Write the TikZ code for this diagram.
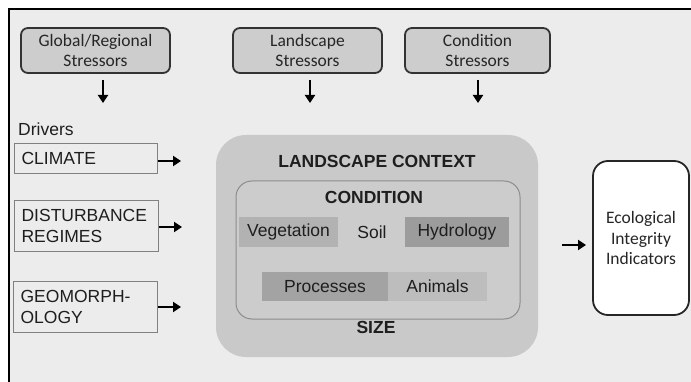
\documentclass[tikz,border=0pt]{standalone}
\usepackage{fontspec}
\setmainfont{Liberation Sans}
\newfontfamily\calfont{Carlito}
\usetikzlibrary{arrows.meta}
\definecolor{bgc}{HTML}{ECECEC}
\definecolor{stressfill}{HTML}{CDCDCD}
\definecolor{bigfill}{HTML}{C9C9C9}
\definecolor{txt}{HTML}{1E1E1E}
\tikzset{
  stressbox/.style={draw=black!80, line width=1.8pt, fill=stressfill, rounded corners=7pt,
     minimum height=45pt, inner sep=0pt, align=center, text=black!85,
     font=\calfont\fontsize{17.5}{20}\selectfont},
  driverbox/.style={draw=black!50, line width=1.2pt, fill=bgc, inner xsep=7pt, inner ysep=0pt,
     align=left, text=txt, font=\fontsize{17.5}{21}\selectfont, anchor=north west},
  cell/.style={inner sep=0pt, minimum height=30pt, text=txt, font=\fontsize{17.5}{21}\selectfont},
  heading/.style={text=txt, font=\bfseries\fontsize{17.5}{21}\selectfont, inner sep=0pt},
  arr/.style={line width=2.6pt, -{Triangle[length=8pt,width=10pt]}},
}
\begin{document}
\begin{tikzpicture}[x=1pt,y=-1pt]
\useasboundingbox (0,0) rectangle (691,382);
\fill[white] (0,0) rectangle (691,382);
\fill[bgc] (9,9) rectangle (691,382);
\draw[black, line width=2.8pt] (9,382) -- (9,9) -- (691,9);

% stressors
\node[stressbox, minimum width=149pt] (gs) at (95.5,50.5) {Global/Regional\\Stressors};
\node[stressbox, minimum width=149pt] (ls) at (307.5,50.5) {Landscape\\Stressors};
\node[stressbox, minimum width=145pt] (cs) at (477.5,50.5) {Condition\\Stressors};
\coordinate (gs1) at (103,80); \coordinate (gs2) at (103,103);
\coordinate (ls1) at (310,80); \coordinate (ls2) at (310,103);
\coordinate (cs1) at (478,80); \coordinate (cs2) at (478,103);
\draw[arr] (gs1) -- (gs2);
\draw[arr] (ls1) -- (ls2);
\draw[arr] (cs1) -- (cs2);

% drivers
\node[text=txt, font=\fontsize{17.5}{21}\selectfont, anchor=west, inner sep=0pt] (drv) at (18,129) {Drivers};
\node[driverbox, text width=129pt, minimum height=30pt] (clim) at (14,143) {CLIMATE};
\node[driverbox, text width=130pt, minimum height=51pt] (dist) at (14,200) {DISTURBANCE\\REGIMES};
\node[driverbox, text width=130pt, minimum height=51pt] (geo) at (13,281) {GEOMORPH-\\OLOGY};
\coordinate (ca) at (158,161); \coordinate (cb) at (181,161);
\coordinate (da) at (159,227); \coordinate (db) at (182,227);
\coordinate (ga) at (158,307); \coordinate (gb) at (181,307);
\draw[arr] (ca) -- (cb);
\draw[arr] (da) -- (db);
\draw[arr] (ga) -- (gb);

% landscape context
\fill[bigfill, rounded corners=30pt] (216,135) rectangle (538,357);
\node[heading] (lc) at (377,161) {LANDSCAPE CONTEXT};
\draw[draw=black!45, line width=1pt, fill=black!20, rounded corners=16pt] (236,181) rectangle (520,319);
\node[heading] (cond) at (374,197) {CONDITION};
\node[cell, fill=black!30, minimum width=99pt] (veg) at (288.5,232) {Vegetation};
\node[cell] (soil) at (372,232) {Soil};
\node[cell, fill=black!39, minimum width=104pt] (hyd) at (457,232) {Hydrology};
\node[cell, fill=black!36, minimum width=126pt, minimum height=29pt] (proc) at (325,286.5) {Processes};
\node[cell, fill=black!26, minimum width=99pt, minimum height=29pt] (anim) at (437.5,286.5) {Animals};
\node[heading] (size) at (376,327) {SIZE};

% indicators
\node[draw=black!85, line width=1.8pt, fill=white, rounded corners=15pt, minimum width=96pt,
      minimum height=154pt, align=center, text=black!85, inner sep=0pt,
      font=\calfont\fontsize{17.5}{20.5}\selectfont] (eii) at (641,238) {Ecological\\Integrity\\Indicators};
\coordinate (ea) at (562,245); \coordinate (eb) at (586,245);
\draw[arr] (ea) -- (eb);
\end{tikzpicture}
\end{document}
